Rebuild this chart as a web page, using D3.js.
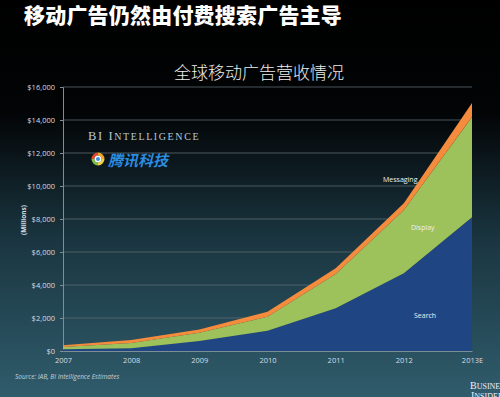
<!DOCTYPE html>
<html>
<head>
<meta charset="utf-8">
<script src="https://cdn.jsdelivr.net/npm/d3@7"></script>
<style>
  body { margin: 0; background: #000; }
  svg { display: block; }
</style>
</head>
<body>
<div id="chart"></div>
<script>
const years = ["2007", "2008", "2009", "2010", "2011", "2012", "2013E"];
const search = [100, 160, 600, 1230, 2590, 4710, 8100];
const display = [150, 320, 510, 850, 2080, 3830, 6080];
const messaging = [100, 190, 200, 300, 340, 410, 850];
const yTicks = [0, 2000, 4000, 6000, 8000, 10000, 12000, 14000, 16000];
const seriesNames = ["Search", "Display", "Messaging"];
const seriesColors = ["#1f4583", "#9dc15b", "#f58b3c"];

const W = 500, H = 397;
const svg = d3.select("#chart").append("svg").attr("width", W).attr("height", H);

// background gradient
const defs = svg.append("defs");
const grad = defs.append("linearGradient").attr("id", "bg")
  .attr("x1", 0).attr("y1", 0).attr("x2", 0).attr("y2", 1);
grad.append("stop").attr("offset", "0").attr("stop-color", "#000000");
grad.append("stop").attr("offset", "0.28").attr("stop-color", "#020405");
grad.append("stop").attr("offset", "0.6").attr("stop-color", "#1a3540");
grad.append("stop").attr("offset", "1").attr("stop-color", "#305c6c");
svg.append("rect").attr("width", W).attr("height", H).attr("fill", "url(#bg)");

// titles
svg.append("text").attr("x", 24).attr("y", 23)
  .attr("fill", "#fff").attr("font-size", 21).attr("font-weight", 900)
  .attr("font-family", "Noto Sans CJK SC").attr("letter-spacing", 0.2)
  .text("移动广告仍然由付费搜索广告主导");
svg.append("text").attr("x", 259).attr("y", 79).attr("text-anchor", "middle")
  .attr("fill", "#eee").attr("font-size", 17)
  .attr("font-family", "Noto Sans CJK SC").attr("font-weight", 300)
  .text("全球移动广告营收情况");

const x = d3.scalePoint().domain(years).range([63, 472]);
const y = d3.scaleLinear().domain([0, 16000]).range([351, 87]);

// grid
const grid = svg.append("g");
grid.selectAll("line").data(yTicks.slice(1)).join("line")
  .attr("x1", 63).attr("x2", 472)
  .attr("y1", d => y(d)).attr("y2", d => y(d))
  .attr("stroke", "#5b6b70").attr("stroke-width", 0.8);

// y axis
const yAxis = svg.append("g").attr("transform", "translate(63,0)")
  .call(d3.axisLeft(y).tickValues(yTicks).tickSize(3).tickPadding(5)
    .tickFormat(d => "$" + d3.format(",")(d)));
yAxis.select(".domain").attr("stroke", "#7d8e94");
yAxis.selectAll(".tick line").attr("stroke", "#7d8e94");
yAxis.selectAll("text").attr("fill", "#d8dde0").attr("font-size", 7.5)
  .attr("font-family", "Open Sans");

svg.append("text").attr("transform", "translate(26,220) rotate(-90)")
  .attr("text-anchor", "middle").attr("fill", "#d8dde0").attr("font-size", 6.5)
  .attr("font-weight", "bold").attr("font-family", "Open Sans").text("(Millions)");

// stacked areas
const table = years.map((yr, i) => ({ year: yr, Search: search[i], Display: display[i], Messaging: messaging[i] }));
const stacked = d3.stack().keys(seriesNames)(table);
const area = d3.area()
  .x(d => x(d.data.year))
  .y0(d => y(d[0]))
  .y1(d => y(d[1]));
svg.append("g").selectAll("path").data(stacked).join("path")
  .attr("d", area)
  .attr("fill", (d, i) => seriesColors[i]);

// x axis
const xAxis = svg.append("g").attr("transform", "translate(0,351)")
  .call(d3.axisBottom(x).tickSize(0).tickPadding(7));
xAxis.select(".domain").attr("stroke", "#7d8e94");
xAxis.selectAll("text").attr("fill", "#d8dde0").attr("font-size", 7.5)
  .attr("font-family", "Open Sans");

// series labels
const labels = [
  { t: "Messaging", x: 383, y: 182 },
  { t: "Display", x: 411, y: 230 },
  { t: "Search", x: 414, y: 318 }
];
svg.append("g").selectAll("text").data(labels).join("text")
  .attr("x", d => d.x).attr("y", d => d.y)
  .attr("fill", "#f0f0f0").attr("font-size", 7).attr("font-family", "Open Sans")
  .text(d => d.t);

// BI Intelligence logo
const bi = svg.append("text").attr("x", 88).attr("y", 140)
  .attr("fill", "#b9c8d8").attr("font-family", "Liberation Serif").attr("letter-spacing", 1.6);
bi.append("tspan").attr("font-size", 12.5).text("BI I");
bi.append("tspan").attr("font-size", 10).text("NTELLIGENCE");

// Tencent logo
const logo = svg.append("g").attr("transform", "translate(98,159)");
const ringArc = d3.arc().innerRadius(3.5).outerRadius(6.5);
const ringCols = ["#f5a623", "#f4d03f", "#7dc242", "#e8452c"];
logo.selectAll("path").data(ringCols).join("path")
  .attr("d", (c, i) => ringArc({ startAngle: i * Math.PI / 2, endAngle: (i + 1) * Math.PI / 2 }))
  .attr("fill", c => c);
logo.append("circle").attr("r", 3.5).attr("fill", "#fff");
logo.append("circle").attr("r", 2).attr("fill", "#3a8fd8");
svg.append("text").attr("x", 108).attr("y", 166)
  .attr("fill", "#2b8ce0").attr("font-size", 15).attr("font-style", "italic")
  .attr("font-family", "Noto Sans CJK SC").attr("font-weight", "bold")
  .text("腾讯科技");

// source
svg.append("text").attr("x", 15).attr("y", 379)
  .attr("fill", "#c5d0d5").attr("font-size", 6.5).attr("font-style", "italic")
  .attr("font-family", "Open Sans").text("Source: IAB, BI Intelligence Estimates");

// Business Insider mark (cut off by the right edge, as in the original)
const bz = svg.append("g").attr("fill", "#eef").attr("font-family", "Liberation Serif");
const b1 = bz.append("text").attr("x", 470).attr("y", 389);
b1.append("tspan").attr("font-size", 10).text("B");
b1.append("tspan").attr("font-size", 8).text("USINESS");
const b2 = bz.append("text").attr("x", 471).attr("y", 399);
b2.append("tspan").attr("font-size", 10).text("I");
b2.append("tspan").attr("font-size", 8).text("NSIDER");
</script>
</body>
</html>
